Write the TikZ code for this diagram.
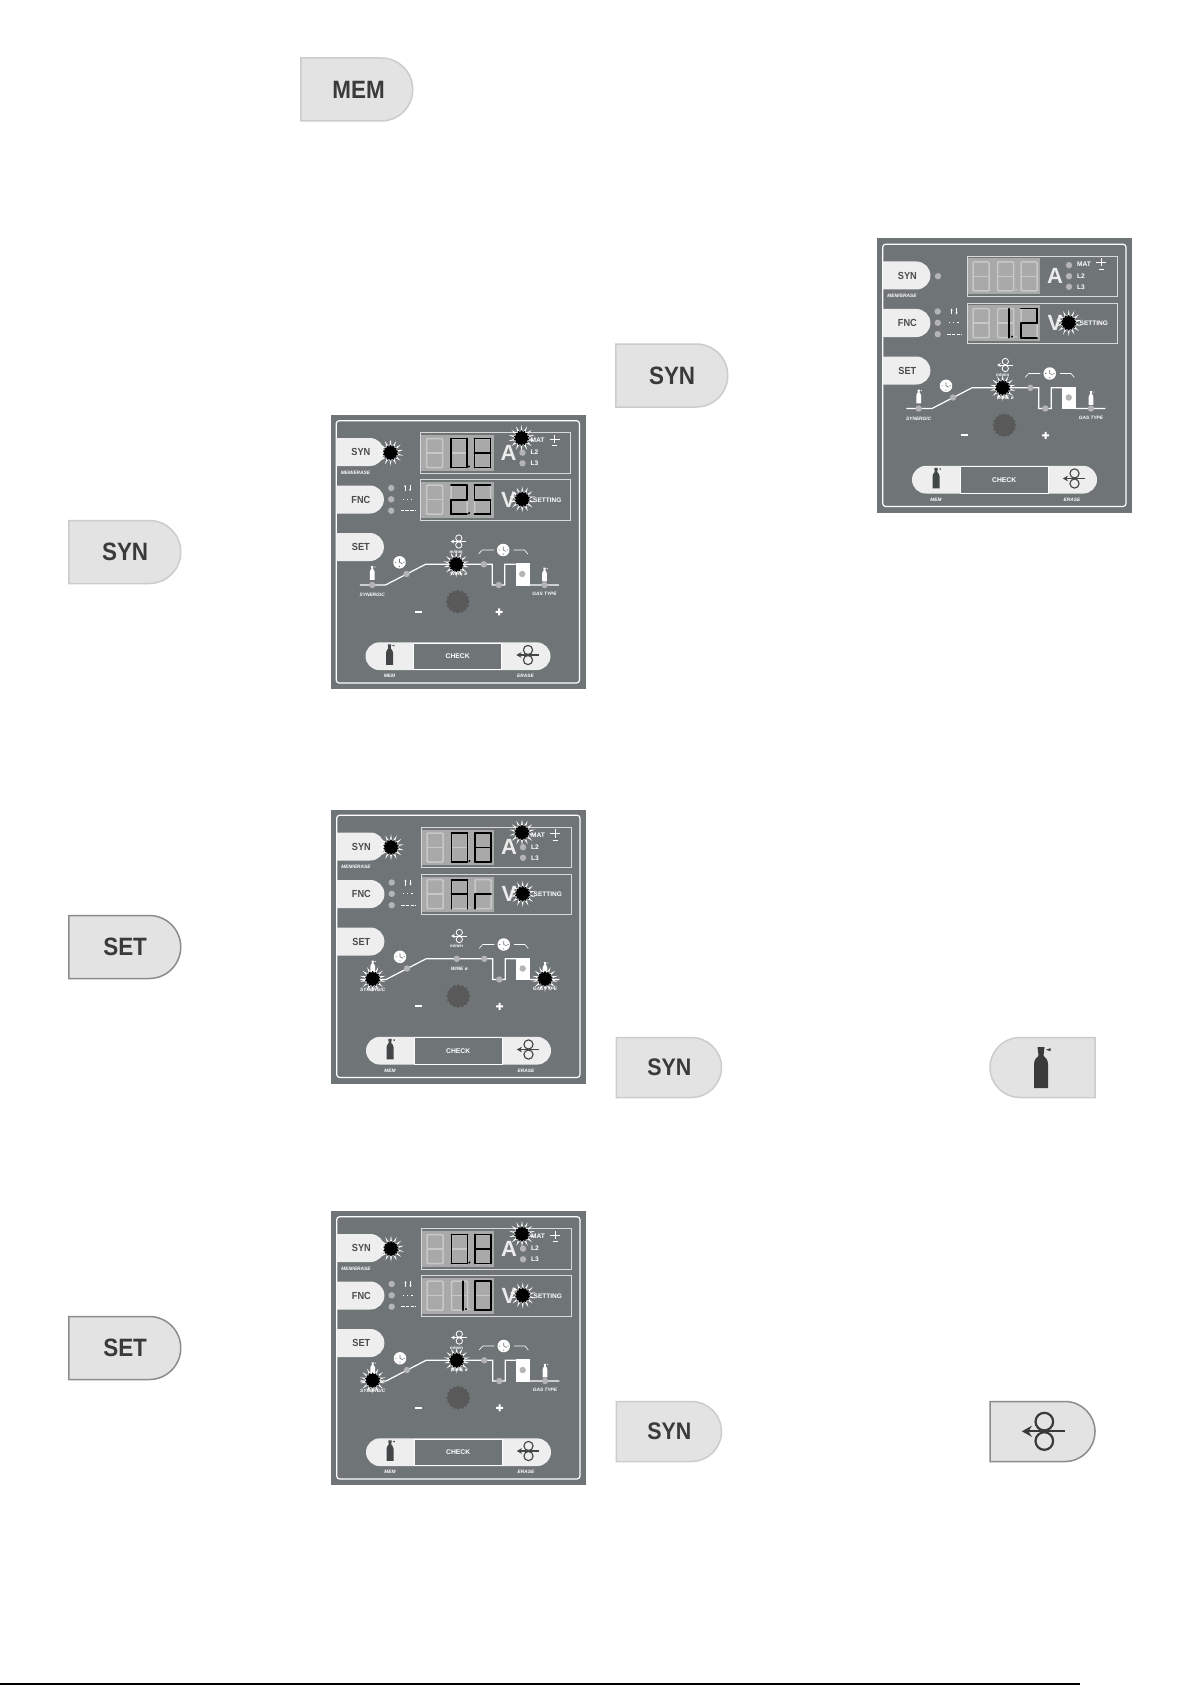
\documentclass[tikz,border=0pt]{standalone}
\usepackage{graphicx}
\usepackage{fontspec}
\setmainfont{Liberation Sans}
\usetikzlibrary{arrows.meta,shapes.geometric,shapes.misc}
\definecolor{panelgray}{HTML}{6F7576}
\definecolor{keywhite}{HTML}{EEEEEE}
\definecolor{keygray}{HTML}{E3E3E3}
\definecolor{keydark}{HTML}{3A3A3A}
\definecolor{ledgray}{HTML}{B4B4B4}
\definecolor{digitbg}{HTML}{A9A9A9}
\definecolor{segoff}{HTML}{C8C8C8}
\newcommand{\fs}[1]{\fontsize{#1}{#1}\selectfont}
\newcommand{\tall}[1]{\scalebox{1.02}[1.14]{#1}}
\tikzset{
	bigkey/.style={rounded rectangle, rounded rectangle left arc=none, anchor=west, fill=keygray, draw=#1, line width=1.5pt, inner sep=0pt, minimum width=112pt, minimum height=63pt, text=keydark, font=\fs{22}\bfseries},
	smallkey/.style={bigkey=#1, minimum width=105pt, minimum height=60pt, font=\fs{21}\bfseries},
	panelkey/.style={rounded rectangle, rounded rectangle left arc=none, anchor=west, fill=keywhite, inner sep=0pt, minimum width=47.5pt, minimum height=28pt, text=black!70, font=\fs{9}\bfseries},
	tinytext/.style={inner sep=0pt, text=white, font=\fs{#1}\bfseries},
	tinyital/.style={inner sep=0pt, text=white, font=\fs{4.8}\bfseries\itshape},
	led/.style={circle, fill=ledgray, inner sep=0pt, minimum size=6.4pt},
	frameline/.style={draw=white!85!black, line width=0.7pt},
	raystar/.style={star, star points=14, star point ratio=2.3, fill=white, inner sep=0pt, minimum size=26pt},
	corestar/.style={star, star points=14, star point ratio=1.3, fill=black, inner sep=0pt, minimum size=16pt},
	knob/.style={star, star points=16, star point ratio=1.15, fill=black!65, inner sep=0pt, minimum size=24pt},
	clockface/.style={circle, fill=white, inner sep=0pt, minimum size=12.5pt},
}
% one digit of the display, unlit
\newcommand{\segdigit}[2]{
	\draw[segoff, line width=1.5pt, rounded corners=1pt] (#1,#2) rectangle ++(16,29);
	\draw[segoff, line width=1.5pt] (#1,#2+14.5) -- ++(16,0);
}
% lit segments
\def\dzero{0/0/16/0,16/0/16/14.5,16/14.5/16/29,16/29/0/29,0/29/0/14.5,0/14.5/0/0}
\def\deight{0/0/16/0,16/0/16/14.5,16/14.5/16/29,16/29/0/29,0/29/0/14.5,0/14.5/0/0,0/14.5/16/14.5}
\def\dtwo{0/0/16/0,16/0/16/14.5,16/14.5/0/14.5,0/14.5/0/29,0/29/16/29}
\def\dfive{16/0/0/0,0/0/0/14.5,0/14.5/16/14.5,16/14.5/16/29,16/29/0/29}
\def\done{16/0/16/14.5,16/14.5/16/29}
\def\dbiga{0/29/0/14.5,0/14.5/0/0,0/0/16/0,16/0/16/14.5,16/14.5/16/29,0/14.5/16/14.5}
\def\dsmallr{0/29/0/14.5,0/14.5/16/14.5}
\newcommand{\seglit}[3]{
	\foreach \xa/\ya/\xb/\yb in #3 {
		\draw[black, line width=1.6pt, line cap=round] (#1+\xa,#2+\ya) -- (#1+\xb,#2+\yb);
	}
}
\newcommand{\burst}[3]{
	\node[raystar] (#1ray) at (#2,#3) {};
	\node[corestar] (#1) at (#2,#3) {};
}
\newcommand{\wireicon}[4]{
	\begin{scope}[shift={(#1,#2)}, scale=#3]
	\draw[#4, line width=#3*2.2pt] (0,-9.7) circle (8.8) (0,9.7) circle (8.8);
	\draw[#4, line width=#3*2.2pt, {Stealth[length=#3*10pt, width=#3*11pt]}-] (-22.5,0) -- (21,0);
	\end{scope}
}
\newcommand{\bottleicon}[4]{
	\begin{scope}[shift={(#1,#2)}, scale=#3]
	\fill[#4] (-7,20.5) -- (-7,-4) .. controls (-7,-9) and (-3,-11) .. (-2.5,-12) -- (-3.5,-20.5) -- (3.5,-20.5) -- (2.5,-12) .. controls (3,-11) and (7,-9) .. (7,-4) -- (7,20.5) -- cycle;
	\fill[#4] (5,-18) -- (9.5,-19.5) -- (9.5,-16.5) -- cycle;
	\end{scope}
}
\newcommand{\clockicon}[3]{
	\node[clockface] (#1) at (#2,#3) {};
	\draw[panelgray, line width=0.6pt] (#2,#3-3.5) -- (#2,#3) -- (#2+3,#3+1.5);
	\fill[panelgray] (#2-4.5,#3-0.4) rectangle ++(1.2,0.8) (#2-0.4,#3+3.6) rectangle ++(0.8,1.2) (#2+3.6,#3-0.4) rectangle ++(1.2,0.8);
}
% the whole front panel, #4 holds what differs
\newcommand{\panel}[4]{
	\begin{scope}[shift={(#2,#3)}, name prefix=#1-]
	\fill[panelgray] (0,0) rectangle (255,274);
	\draw[white, line width=1.2pt, rounded corners=3pt] (5.7,5.7) rectangle (249,268);
	% keys
	\node[panelkey] (syn) at (5.7,37) {\hspace{2pt}\tall{SYN}};
	\node[panelkey] (fnc) at (5.7,84.5) {\hspace{2pt}\tall{FNC}};
	\node[panelkey] (set) at (5.7,132) {\hspace{2pt}\tall{SET}};
	\node[tinyital] (memerase) at (25,57.5) {MEM/ERASE};
	\node[led] (ledsyn) at (61,37.7) {};
	\node[led] (ledupdown) at (60.7,73) {};
	\node[led] (leddots) at (60.7,84.3) {};
	\node[led] (leddash) at (60.7,95.7) {};
	\draw[white, line width=0.7pt, {Stealth[length=2pt, width=2pt]}-] (74.5,70) -- (74.5,76);
	\draw[white, line width=0.7pt, -{Stealth[length=2pt, width=2pt]}] (79.5,70) -- (79.5,76);
	\draw[white, line width=1.1pt, dash pattern=on 1.3pt off 2.8pt] (72,84.3) -- (84,84.3);
	\draw[white, line width=1.1pt, dash pattern=on 3.6pt off 1.2pt] (70,95.7) -- (85,95.7);
	% displays
	\draw[frameline] (90,17.7) rectangle (240,58);
	\draw[frameline] (90,64.7) rectangle (240,105);
	\fill[digitbg] (90.5,20) rectangle (163,55.7);
	\fill[digitbg] (90.5,67) rectangle (163,102.7);
	\foreach \dx in {96,120.5,144} {
		\segdigit{\dx}{23.5}
		\segdigit{\dx}{70.2}
	}
	\fill[segoff] (139,51.5) circle (1);
	\fill[segoff] (139,98.2) circle (1);
	\node[inner sep=0pt, text=white!92!black, font=\fs{22}\bfseries] (ampere) at (178,37.7) {A};
	\node[inner sep=0pt, text=white!92!black, font=\fs{22}\bfseries] (volt) at (178,84.5) {V};
	\node[led] (ledmat) at (192,26.7) {};
	\node[led] (ledtwo) at (192,37.7) {};
	\node[led] (ledthree) at (192,48.3) {};
	\node[tinytext=6.6, anchor=west] (mat) at (200,25.7) {MAT};
	\node[tinytext=6.6, anchor=west] (ltwo) at (200,37.5) {L2};
	\node[tinytext=6.6, anchor=west] (lthree) at (200,48.5) {L3};
	\draw[white, line width=0.6pt] (224,19.5) -- (224,28) (219,24) -- (229,24);
	\draw[white, line width=0.8pt] (221.5,30.5) -- (226.5,30.5);
	\node[tinytext=6.5, anchor=west] (setting) at (202.5,85) {SETTING};
	% welding curve
	\fill[white] (185,148.3) rectangle (199,170.7);
	\draw[white, line width=1.2pt] (29.3,170) -- (55,170) -- (95,149.3) -- (161.7,149.3) -- (161.7,170) -- (174.3,170) -- (174.3,149.3) -- (185,149.3) (199,170) -- (228.3,170);
	\draw[white, line width=0.6pt] (148,139) -- (151.7,135) -- (163.3,135) (183,135) -- (194,135) -- (197.3,139);
	\node[led] (ledgasin) at (41.7,170) {};
	\node[led] (ledslope) at (76,159) {};
	\node[led] (ledwire) at (125.7,149.3) {};
	\node[led] (ledburn) at (153.3,149.3) {};
	\node[led] (leddown) at (168.3,170) {};
	\node[led] (ledspot) at (191.7,159) {};
	\node[led] (ledgasout) at (214,170) {};
	\bottleicon{41.7}{158}{0.33}{white}
	\bottleicon{214}{159.5}{0.33}{white}
	\clockicon{clockup}{69}{147.3}
	\clockicon{clocktop}{172.7}{135}
	\wireicon{128.3}{126.5}{0.36}{white}
	\node[tinytext=4.4] (mmin) at (125.7,136.7) {m/min};
	\node[tinyital] (wire) at (128.3,159) {WIRE ø};
	\node[tinyital] (synergic) at (41.7,180) {SYNERGIC};
	\node[tinyital] (gastype) at (214,179.3) {GAS TYPE};
	\node[knob] (knob) at (127.3,186.7) {};
	\fill[white] (84,195.8) rectangle (91,197.8);
	\fill[white] (165,195.8) rectangle (172,197.8) (167.5,193.3) rectangle (169.5,200.3);
	% bottom keys
	\node[rounded rectangle, fill=keywhite, inner sep=0pt, minimum width=185pt, minimum height=27.7pt] (bar) at (127.5,241.2) {};
	\node[rectangle, fill=panelgray, draw=white, line width=0.8pt, inner sep=0pt, minimum width=87.7pt, minimum height=26.5pt, text=white, font=\fs{6.8}\bfseries] (check) at (127.2,241.2) {CHECK};
	\bottleicon{59}{239.5}{0.5}{panelgray!60!black}
	\wireicon{197.5}{240}{0.52}{panelgray!60!black}
	\node[tinyital] (mem) at (59,261) {MEM};
	\node[tinyital] (erase) at (195,261) {ERASE};
	#4
	\end{scope}
}
\begin{document}
\begin{tikzpicture}[x=1pt, y=-1pt]
	\useasboundingbox (0,0) rectangle (1192,1685);
	\fill[white] (0,0) rectangle (1192,1685);
	% big keys
	\node[bigkey=black!20] (keymem) at (300,89.5) {\hspace{5pt}\tall{MEM}};
	\node[bigkey=black!20] (keysyna) at (68,552) {\hspace{2pt}\tall{SYN}};
	\node[bigkey=black!20] (keysynb) at (615,375.5) {\hspace{2pt}\tall{SYN}};
	\node[bigkey=black!45] (keyseta) at (68,947) {\hspace{2pt}\tall{SET}};
	\node[bigkey=black!45] (keysetb) at (68,1348) {\hspace{2pt}\tall{SET}};
	\node[smallkey=black!20] (keysync) at (615.7,1067.5) {\hspace{2pt}\tall{SYN}};
	\node[smallkey=black!20] (keysynd) at (615.7,1431.5) {\hspace{2pt}\tall{SYN}};
	% keys with an icon
	\node[rounded rectangle, rounded rectangle right arc=none, fill=keygray, draw=black!20, line width=1.5pt, inner sep=0pt, minimum width=105pt, minimum height=60pt] (keygas) at (1042.5,1067.5) {};
	\bottleicon{1041}{1067.7}{1}{keydark}
	\node[rounded rectangle, rounded rectangle left arc=none, fill=keygray, draw=black!45, line width=1.5pt, inner sep=0pt, minimum width=105pt, minimum height=60pt] (keywire) at (1042.5,1431.5) {};
	\wireicon{1044.3}{1431.3}{1}{keydark}
	% panels
	\panel{pa}{330.5}{415}{
		\seglit{120.5}{23.5}{\dzero}
		\seglit{144}{23.5}{\deight}
		\seglit{120.5}{70.2}{\dtwo}
		\seglit{144}{70.2}{\dfive}
		\fill[black] (138.5,51.5) circle (1.2) (138.5,98.2) circle (1.2);
		\burst{bsyn}{60}{37.7}
		\burst{bmat}{191}{23}
		\burst{bset}{191.7}{84.3}
		\burst{bwire}{125.7}{149.3}
	}
	\panel{pb}{877}{238.5}{
		\seglit{116}{70.2}{\done}
		\seglit{144}{70.2}{\dtwo}
		\fill[black] (135,98.2) circle (1.2);
		\burst{bset}{191.7}{84.3}
		\burst{bwire}{125.7}{149.3}
	}
	\panel{pc}{331}{809.5}{
		\seglit{120.5}{23.5}{\dzero}
		\seglit{144}{23.5}{\deight}
		\seglit{120.5}{70.2}{\dbiga}
		\seglit{144}{70.2}{\dsmallr}
		\fill[black] (138.5,51.5) circle (1.2);
		\burst{bsyn}{60}{37.7}
		\burst{bmat}{191}{23}
		\burst{bset}{191.7}{84.3}
		\burst{bgasin}{41.7}{169.3}
		\burst{bgasout}{214}{169.3}
	}
	\panel{pd}{331}{1211}{
		\seglit{120.5}{23.5}{\dzero}
		\seglit{144}{23.5}{\deight}
		\seglit{116}{70.2}{\done}
		\seglit{144}{70.2}{\dzero}
		\fill[black] (138.5,51.5) circle (1.2) (135,98.2) circle (1.2);
		\burst{bsyn}{60}{37.7}
		\burst{bmat}{191}{23}
		\burst{bset}{191.7}{84.3}
		\burst{bwire}{125.7}{149.3}
		\burst{bgasin}{41.7}{169.3}
	}
	% foot of the page
	\draw[black, line width=1.5pt] (0,1684) -- (1080,1684);
\end{tikzpicture}
\end{document}
